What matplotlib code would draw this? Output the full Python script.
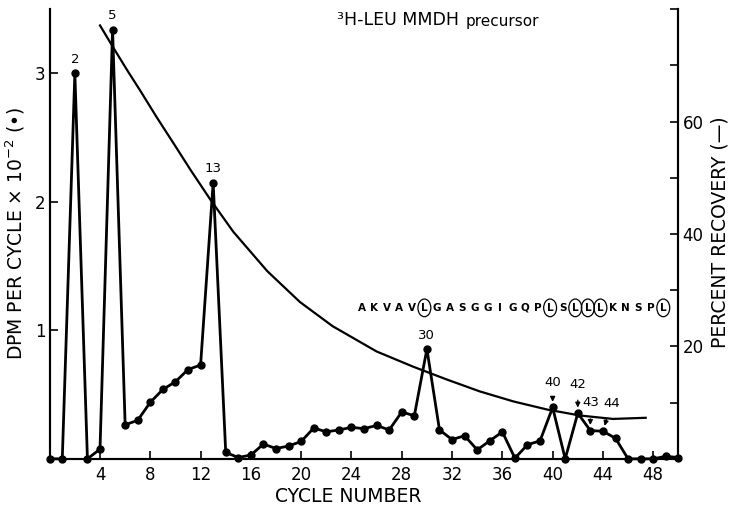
import matplotlib.pyplot as plt

plt.rcParams['font.family'] = ['DejaVu Sans']

# ---- data ----
cycles = list(range(0, 51))
dpm = [0.0, 0.0, 3.0, 0.0, 0.075, 3.34, 0.265, 0.30, 0.44, 0.54,
       0.60, 0.695, 0.73, 2.15, 0.05, 0.01, 0.03, 0.115, 0.08, 0.10,
       0.135, 0.24, 0.21, 0.225, 0.245, 0.235, 0.26, 0.225, 0.365, 0.335,
       0.855, 0.225, 0.15, 0.18, 0.07, 0.14, 0.21, 0.005, 0.11, 0.14,
       0.40, 0.0, 0.355, 0.22, 0.215, 0.16, 0.0, 0.0, 0.0, 0.02, 0.01]

# percent recovery curve, sampled along the drawn line
rec_cycle = [4.0, 5.1, 6.2, 7.2, 8.5, 9.8, 11.2, 12.75, 14.6, 17.3,
             19.9, 22.5, 26.0, 28.9, 31.6, 34.2, 36.9, 39.6, 42.2, 44.8, 47.4]
rec_pct = [77.1, 73.0, 69.0, 65.5, 60.8, 56.3, 51.4, 46.2, 40.4, 33.4,
           27.9, 23.6, 19.1, 16.4, 14.1, 12.0, 10.2, 8.75, 7.7, 7.1, 7.3]

peak_labels = [2, 5, 13, 30]
arrow_labels = [40, 42, 43, 44]

sequence = "AKVAVLGASGGIGQPLSLLLKNSPL"
circled = [5, 15, 17, 18, 19, 24]

x_ticks = list(range(4, 49, 4))
left_ticks = [1, 2, 3]
right_ticks = list(range(10, 81, 10))
right_labels = ['' if v not in (20, 40, 60) else str(v) for v in right_ticks]

# ---- figure ----
fig = plt.figure(figsize=(7.31, 5.07), dpi=100)
ax = fig.add_axes([0.068, 0.095, 0.86, 0.887])
ax2 = ax.twinx()

ax.plot(cycles, dpm, color='black', lw=2, marker='o', ms=5, clip_on=False, zorder=3)
ax2.plot(rec_cycle, rec_pct, color='black', lw=1.6)

ax.set_xlim(0, 50)
ax.set_ylim(0, 3.5)
ax2.set_ylim(0, 80)

ax.set_xticks(x_ticks)
ax.set_yticks(left_ticks)
ax2.set_yticks(right_ticks)
ax2.set_yticklabels(right_labels)

ax.tick_params(axis='x', direction='in', length=6, width=1.2, pad=5, labelsize=12)
ax.tick_params(axis='y', direction='in', length=6, width=1.2, pad=3, labelsize=12)
ax2.tick_params(axis='y', direction='in', length=6, width=1.2, pad=3, labelsize=12)

for a in (ax, ax2):
    a.spines['top'].set_visible(False)
    for s in ('left', 'right', 'bottom'):
        a.spines[s].set_linewidth(1.5)

# peak labels
for c in peak_labels:
    ax.annotate(str(c), xy=(c, dpm[c]), xytext=(0, 10), textcoords='offset points',
                ha='center', va='center', fontsize=9.5)

arrow_offsets = {40: (0, 18), 42: (0, 21), 43: (0, 20), 44: (6, 20)}
for c in arrow_labels:
    ax.annotate(str(c), xy=(c, dpm[c]), xytext=arrow_offsets[c], textcoords='offset points',
                ha='center', va='center', fontsize=9.5,
                arrowprops=dict(arrowstyle='-|>', color='black', lw=1,
                                mutation_scale=7, shrinkA=5, shrinkB=4))

# title
t1 = ax.text(22.85, 3.38, "³H-LEU MMDH", fontsize=12.5, ha='left', va='baseline')
ax.annotate("precursor", xy=(1, 0), xycoords=t1, xytext=(5, 0),
            textcoords='offset points', fontsize=11, ha='left', va='bottom')

# sequence
for i, ch in enumerate(sequence):
    bbox = None
    if i in circled:
        bbox = dict(boxstyle='ellipse,pad=0.12', fc='none', ec='black', lw=0.9)
    ax.text(24.8 + i, 1.175, ch, fontsize=7.5, fontweight='bold',
            ha='center', va='center', bbox=bbox)

# axis labels
fig.text(348 / 731, 1 - 497 / 507, "CYCLE NUMBER", fontsize=13.5, ha='center', va='center')
fig.text(15 / 731, 1 - 233 / 507, "DPM PER CYCLE × 10$^{-2}$ (•)", fontsize=13.5,
         rotation=90, ha='center', va='center')
fig.text(720 / 731, 1 - 232 / 507, "PERCENT RECOVERY (—)", fontsize=13.5,
         rotation=90, ha='center', va='center')

fig.savefig('out.png', dpi=100)
